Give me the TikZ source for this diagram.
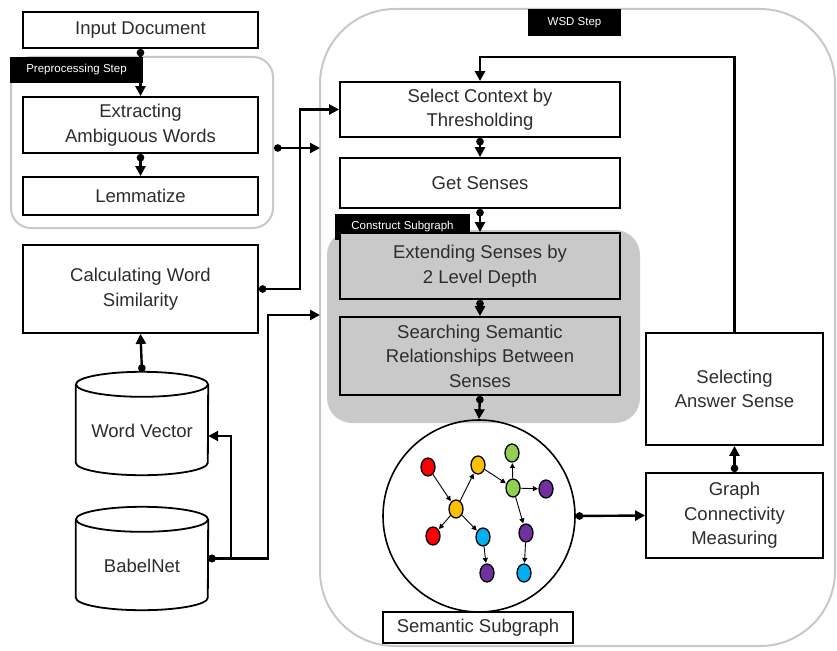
\documentclass[tikz,border=0pt]{standalone}
\usepackage{fontspec}
\setmainfont{Liberation Sans}
\usetikzlibrary{arrows.meta,shapes.geometric,calc}
\definecolor{txt}{RGB}{45,45,45}
\definecolor{cont}{RGB}{200,200,200}
\definecolor{subg}{RGB}{201,201,201}
\definecolor{cred}{RGB}{255,0,0}
\definecolor{cyel}{RGB}{255,192,0}
\definecolor{cgrn}{RGB}{146,208,80}
\definecolor{cpur}{RGB}{112,48,160}
\definecolor{cblu}{RGB}{0,176,240}
\begin{document}
\begin{tikzpicture}[x=1pt,y=-1pt,
  box/.style={draw=black, line width=1.8pt, fill=white, text=txt, align=center,
    font=\fontsize{18.5}{24.5}\selectfont, inner sep=0pt},
  gbox/.style={box, fill=subg},
  tag/.style={fill=black, text=white, font=\fontsize{11.5}{13}\selectfont, inner sep=0pt},
  container/.style={draw=cont, line width=2pt, inner sep=0pt},
  conn/.style={line width=2.4pt, -{Triangle[length=10pt,width=10pt]}},
  dconn/.style={line width=2.4pt, {Circle[length=7.5pt,width=7.5pt]}-{Triangle[length=10pt,width=10pt]}},
  cyl/.style={draw=black, line width=1.8pt, fill=white},
  gn/.style={ellipse, draw=black, line width=1.3pt, minimum width=14pt, minimum height=18pt, inner sep=0pt},
  ge/.style={line width=0.9pt, -{Triangle[length=5pt,width=5pt]}, shorten >=0.5pt},
  lbl/.style={text=txt, font=\fontsize{18.5}{24.5}\selectfont}
  ]
\useasboundingbox (0,0) rectangle (837,650);

% containers
\node[container, rounded corners=20pt, minimum width=262, minimum height=171] (pre) at (142,142.5) {};
\node[container, rounded corners=75pt, minimum width=515, minimum height=637] (wsd) at (577.5,327.5) {};
\node[fill=subg, rounded corners=25pt, minimum width=313, minimum height=193, inner sep=0pt] (cs) at (483.5,326.5) {};

% tags
\node[tag, minimum width=133, minimum height=26] (pretag) at (76.5,70) {Preprocessing Step};
\node[tag, minimum width=93, minimum height=27] (wsdtag) at (574.5,22.5) {WSD Step};
\node[tag, minimum width=135, minimum height=26] (cstag) at (402.5,227) {Construct Subgraph};

% left column boxes
\node[box, minimum width=235, minimum height=36] (input) at (140.5,30) {Input Document};
\node[box, minimum width=235, minimum height=56] (extract) at (140.5,125) {Extracting\\Ambiguous Words};
\node[box, minimum width=235, minimum height=38] (lemma) at (140.5,196) {Lemmatize};
\node[box, minimum width=235, minimum height=88] (calc) at (140.5,289) {Calculating Word\\Similarity};

% cylinders
\node[inner sep=0pt, minimum width=132, minimum height=103] (wv) at (142,423.5) {};
\draw[cyl] ([yshift=-12.5pt]wv.north west) -- ([yshift=12.5pt]wv.south west)
  arc[start angle=180, end angle=360, x radius=66pt, y radius=12.5pt]
  -- ([yshift=-12.5pt]wv.north east);
\draw[cyl] ([yshift=-12.5pt]wv.north) ellipse [x radius=66pt, y radius=12.5pt];
\node[lbl] at ([yshift=-7pt]wv.center) {Word Vector};

\node[inner sep=0pt, minimum width=132, minimum height=103] (bn) at (142,558.5) {};
\draw[cyl] ([yshift=-12.5pt]bn.north west) -- ([yshift=12.5pt]bn.south west)
  arc[start angle=180, end angle=360, x radius=66pt, y radius=12.5pt]
  -- ([yshift=-12.5pt]bn.north east);
\draw[cyl] ([yshift=-12.5pt]bn.north) ellipse [x radius=66pt, y radius=12.5pt];
\node[lbl] at ([yshift=-7pt]bn.center) {BabelNet};

% WSD boxes
\node[box, minimum width=280, minimum height=55] (select) at (480,109.5) {Select Context by\\Thresholding};
\node[box, minimum width=280, minimum height=50] (senses) at (480,183) {Get Senses};
\node[gbox, minimum width=280, minimum height=66] (extend) at (480,266) {Extending Senses by\\2 Level Depth};
\node[gbox, minimum width=280, minimum height=78] (search) at (480,356) {Searching Semantic\\Relationships Between\\Senses};
\node[box, minimum width=177, minimum height=112] (answer) at (734.5,389) {Selecting\\Answer Sense};
\node[box, minimum width=177, minimum height=85] (graphm) at (734.5,515.5) {Graph\\Connectivity\\Measuring};

% semantic subgraph
\node[circle, draw=black, line width=1.6pt, minimum size=192pt, inner sep=0pt] (sg) at (479,516) {};
\node[box, minimum width=190, minimum height=31] (sglbl) at (478,627.5) {Semantic Subgraph};

\node[gn, fill=cred] (r1) at (428,467) {};
\node[gn, fill=cyel] (y1) at (478,465) {};
\node[gn, fill=cgrn] (g1) at (512,453) {};
\node[gn, fill=cgrn] (g2) at (513,488) {};
\node[gn, fill=cpur] (p1) at (546,489) {};
\node[gn, fill=cyel] (y2) at (456,509) {};
\node[gn, fill=cred] (r2) at (433,536) {};
\node[gn, fill=cblu] (b1) at (483,537) {};
\node[gn, fill=cpur] (p2) at (526,533) {};
\node[gn, fill=cpur] (p3) at (487,573) {};
\node[gn, fill=cblu] (b2) at (524,573) {};
\draw[ge] (r1) -- (y2);
\draw[ge] (y2) -- (y1);
\draw[ge] (y1) -- (g2);
\draw[ge] (g2) -- (g1);
\draw[ge] (g2) -- (p1);
\draw[ge] (g2) -- (p2);
\draw[ge] (p2) -- (b2);
\draw[ge] (y2) -- (r2);
\draw[ge] (y2) -- (b1);
\draw[ge] (b1) -- (p3);

% connectors
\coordinate (in1) at (320,148);
\coordinate (in2) at (320,315);
\draw[dconn] (input.south) -- (extract.north);
\draw[dconn] (extract.south) -- (lemma.north);
\draw[dconn] ([yshift=-5.5pt]pre.east) -- (in1);
\draw[dconn] (calc.east) -- ++(41,0) |- (select.west);
\draw[dconn] (wv.north) -- (calc.south);
\draw[dconn] (bn.east) -- ++(23,0) |- ([yshift=-12.5pt]wv.east);
\draw[dconn] (bn.east) -- ++(60,0) |- (in2);
\draw[dconn] (select.south) -- (senses.north);
\draw[dconn] (senses.south) -- (extend.north);
\draw[dconn] (extend.south) -- (search.north);
\draw[dconn] (search.south) -- (sg.north);
\draw[dconn] (sg.east) -- (graphm.west);
\draw[dconn] (graphm.north) -- (answer.south);
\draw[conn] (answer.north) -- ++(0,-275) -| (select.north);
\end{tikzpicture}
\end{document}
